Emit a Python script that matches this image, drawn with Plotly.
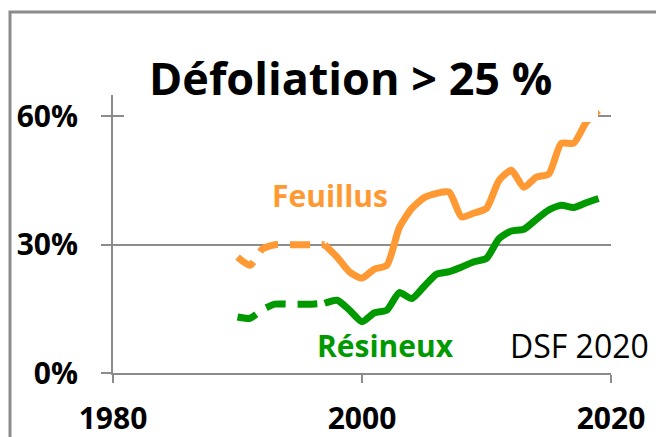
import plotly.graph_objects as go

years_early = [1990, 1991, 1992, 1993, 1994, 1995, 1996, 1997]
feuillus_early = [27.1, 25.2, 29.0, 30.0, 30.0, 30.0, 30.0, 30.0]
resineux_early = [13.1, 12.8, 14.8, 16.1, 16.1, 16.1, 16.1, 16.3]

years_late = list(range(1997, 2020))
feuillus_late = [30.0, 27.1, 23.6, 22.2, 24.3, 25.2, 34.0, 38.5, 41.0, 42.0, 42.3,
                 36.5, 37.4, 38.5, 45.0, 47.4, 43.4, 45.8, 46.5, 53.7, 53.7, 58.6, 61.4]
resineux_late = [16.3, 17.0, 14.7, 12.0, 14.1, 14.7, 18.8, 17.4, 20.3, 23.1, 23.7,
                 24.8, 26.0, 26.8, 31.4, 33.2, 33.6, 35.9, 38.1, 39.2, 38.7, 39.8, 40.8]

x_ticks = [1980, 2000, 2020]
y_ticks = [0, 30, 60]
y_tick_labels = ["0%", "30%", "60%"]

ORANGE = "#FF9933"
GREEN = "#009900"
GRAY = "#8C8C8C"
FONT = "Open Sans"

fig = go.Figure()
for xs, ys, col, dash in [
    (years_early, feuillus_early, ORANGE, "20px,12px"),
    (years_late, feuillus_late, ORANGE, "solid"),
    (years_early, resineux_early, GREEN, "20px,12px"),
    (years_late, resineux_late, GREEN, "solid"),
]:
    fig.add_trace(go.Scatter(x=xs, y=ys, mode="lines",
                             line=dict(color=col, width=7, dash=dash,
                                       shape="spline", smoothing=0.6),
                             showlegend=False, hoverinfo="skip"))

fig.update_layout(
    width=656, height=437,
    margin=dict(l=113, r=45, t=95, b=64),
    paper_bgcolor="white", plot_bgcolor="white",
    font=dict(family=FONT, color="black"),
    xaxis=dict(range=[1980, 2020], tickvals=x_ticks, ticks="outside", ticklen=8,
               tickwidth=2, tickcolor=GRAY, showgrid=False, zeroline=False,
               showline=True, linecolor=GRAY, linewidth=2, automargin=False,
               tickfont=dict(family=FONT, size=30, color="black", weight="bold"),
               ticklabelstandoff=10),
    yaxis=dict(range=[0, 65], tickvals=y_ticks, ticktext=y_tick_labels,
               ticks="outside", ticklen=10, tickwidth=2, tickcolor=GRAY,
               showgrid=True, gridcolor=GRAY, gridwidth=2, zeroline=False,
               showline=True, linecolor=GRAY, linewidth=2, automargin=False,
               tickfont=dict(family=FONT, size=30, color="black", weight="bold"),
               ticklabelstandoff=17),
)

# white title box (covers part of the 60% gridline)
fig.add_shape(type="rect", xref="paper", yref="paper",
              x0=(124 - 113) / 498, x1=(598 - 113) / 498,
              y0=(373 - 122) / 278, y1=1.25,
              fillcolor="white", line=dict(width=0), layer="above")
# outer frame (left + top)
fig.add_shape(type="path", xref="paper", yref="paper",
              path=f"M {(10-113)/498} {(373-440)/278} L {(10-113)/498} {(373-12)/278} L {(660-113)/498} {(373-12)/278}",
              line=dict(color=GRAY, width=3), layer="above")

def px_x(px):
    return (px - 113) / 498

def px_y(py):
    return (373 - py) / 278

fig.add_annotation(text="Défoliation > 25 %", xref="paper", yref="paper",
                   x=px_x(350), y=px_y(78), xanchor="center", yanchor="middle",
                   showarrow=False,
                   font=dict(family=FONT, size=45, color="black", weight="bold"))
fig.add_annotation(text="Feuillus", xref="paper", yref="paper",
                   x=px_x(330), y=px_y(195), xanchor="center", yanchor="middle",
                   showarrow=False,
                   font=dict(family=FONT, size=30, color=ORANGE, weight="bold"))
fig.add_annotation(text="Résineux", xref="paper", yref="paper",
                   x=px_x(385), y=px_y(345), xanchor="center", yanchor="middle",
                   showarrow=False,
                   font=dict(family=FONT, size=30, color=GREEN, weight="bold"))
fig.add_annotation(text="DSF 2020", xref="paper", yref="paper",
                   x=px_x(651), y=px_y(345), xanchor="right", yanchor="middle",
                   showarrow=False,
                   font=dict(family=FONT, size=32, color="black"))

fig.write_html("out.html", config={"displayModeBar": False},
               post_script="document.body.style.margin='0';")
